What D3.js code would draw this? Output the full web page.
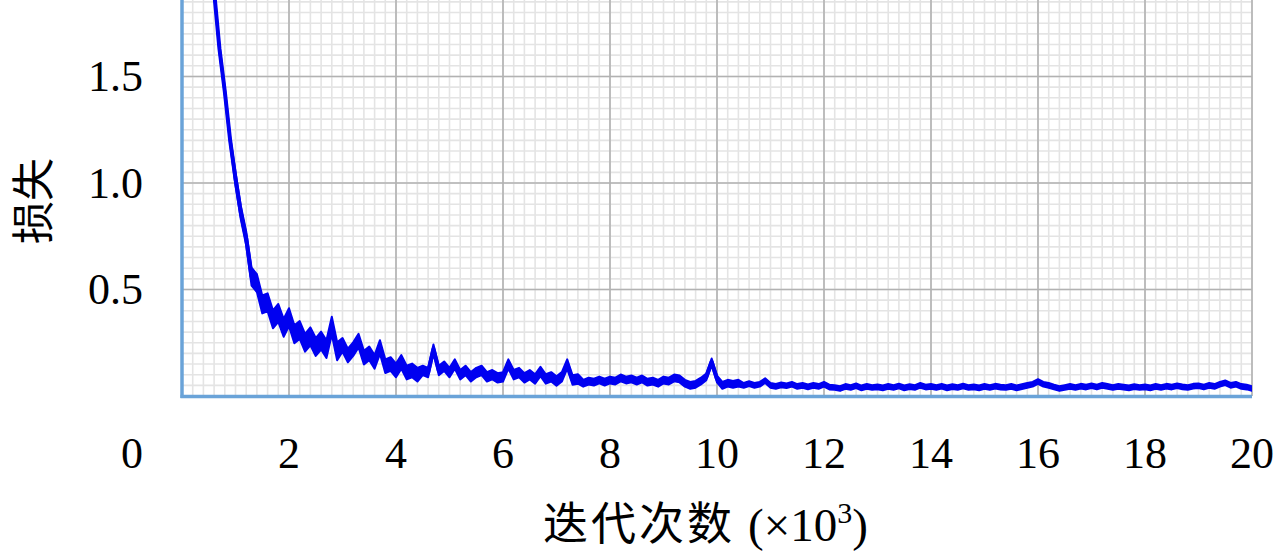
<!DOCTYPE html>
<html><head><meta charset="utf-8">
<script src="https://cdn.jsdelivr.net/npm/d3@7"></script>
<style>body{margin:0;background:#fff}svg{display:block}</style>
</head><body><svg id="c" width="1280" height="557"></svg>
<script>
// Loss sampled every 0.1 x10^3 iterations, starting at 0.5 x10^3
const iterStart = 0.5, iterStep = 0.1;
const lossValues = [
2.08,1.90,1.63,1.43,1.20,1.02,0.86,0.74,0.56,0.53,
0.43,0.44,0.36,0.39,0.32,0.37,0.29,0.31,0.25,0.28,
0.23,0.26,0.22,0.33,0.21,0.24,0.19,0.22,0.26,0.18,
0.20,0.16,0.23,0.14,0.15,0.12,0.16,0.11,0.12,0.10,
0.12,0.11,0.22,0.12,0.14,0.11,0.15,0.10,0.12,0.09,
0.11,0.12,0.09,0.10,0.085,0.09,0.15,0.10,0.11,0.085,
0.10,0.08,0.115,0.08,0.09,0.07,0.09,0.15,0.075,0.08,
0.06,0.07,0.065,0.075,0.065,0.075,0.07,0.085,0.075,0.08,
0.07,0.08,0.065,0.07,0.06,0.075,0.07,0.085,0.08,0.06,
0.05,0.055,0.07,0.09,0.16,0.08,0.05,0.06,0.055,0.06,
0.05,0.058,0.05,0.055,0.072,0.05,0.045,0.052,0.048,0.055,
0.045,0.05,0.043,0.05,0.045,0.055,0.042,0.04,0.035,0.045,
0.04,0.048,0.038,0.045,0.04,0.043,0.038,0.045,0.04,0.047,
0.038,0.044,0.04,0.05,0.042,0.045,0.04,0.046,0.038,0.044,
0.04,0.047,0.04,0.043,0.038,0.045,0.04,0.046,0.042,0.04,
0.045,0.038,0.044,0.05,0.055,0.068,0.055,0.05,0.042,0.035,
0.04,0.045,0.04,0.046,0.042,0.048,0.042,0.05,0.045,0.04,
0.045,0.042,0.038,0.044,0.04,0.043,0.038,0.045,0.04,0.046,
0.042,0.048,0.043,0.04,0.046,0.048,0.042,0.05,0.045,0.055,
0.062,0.05,0.055,0.045,0.042,0.035
];
// Noise half-width of the loss band, read per iteration range: [from (x10^3), half-width]
const noiseFrom   = [0.5,   1.0,   1.3,   3.0,   4.5,   7.5,   10.5];
const noiseSpread = [0.018, 0.032, 0.042, 0.032, 0.022, 0.016, 0.011];
const xTicks = [0,2,4,6,8,10,12,14,16,18,20];
const yTicks = [0.5,1.0,1.5];
const xLabelText = "迭代次数";
const xUnitText = "(×10";
const xUnitExp = "3";
const yLabelText = "损失";

const svg = d3.select("#c");
const x = d3.scaleLinear().domain([0,20]).range([182,1252]);
const y = d3.scaleLinear().domain([0,1.859]).range([396,0]);

const serif = "'Liberation Serif','DejaVu Serif',serif";
const cjk = "'Noto Sans CJK SC','Noto Sans CJK JP',sans-serif";

// grid
const g = svg.append("g");
const minorX = d3.range(0,20.0001,0.2);
const minorY = d3.range(0,1.86,0.05);
g.selectAll(".mx").data(minorX).join("line")
  .attr("x1",d=>x(d)).attr("x2",d=>x(d)).attr("y1",0).attr("y2",y(0))
  .attr("stroke","#e4e4e4").attr("stroke-width",1.6);
g.selectAll(".my").data(minorY).join("line")
  .attr("x1",x(0)).attr("x2",x(20)).attr("y1",d=>y(d)).attr("y2",d=>y(d))
  .attr("stroke","#e4e4e4").attr("stroke-width",1.6);
g.selectAll(".Mx").data(xTicks).join("line")
  .attr("x1",d=>x(d)).attr("x2",d=>x(d)).attr("y1",0).attr("y2",y(0))
  .attr("stroke","#b2b2b2").attr("stroke-width",1.6);
g.selectAll(".My").data(yTicks).join("line")
  .attr("x1",x(0)).attr("x2",x(20)).attr("y1",d=>y(d)).attr("y2",d=>y(d))
  .attr("stroke","#b2b2b2").attr("stroke-width",1.6);

// data
svg.append("clipPath").attr("id","clip").append("rect")
  .attr("x",x(0)).attr("y",0).attr("width",x(20)-x(0)).attr("height",y(0));
const spreadAt = k => { let s = noiseSpread[0]; noiseFrom.forEach((f,i)=>{ if (k >= f) s = noiseSpread[i]; }); return s; };
const pts = lossValues.map((v,i)=>{ const k = iterStart+i*iterStep; return {k, v, s: spreadAt(k)}; });
const plot = svg.append("g").attr("clip-path","url(#clip)");
plot.append("path").datum(pts)
  .attr("fill","#0000f0").attr("stroke","#0000f0").attr("stroke-width",2)
  .attr("stroke-linejoin","round")
  .attr("d", d3.area().x(d=>x(d.k)).y0(d=>y(d.v-d.s)).y1(d=>y(d.v+d.s)));
plot.append("path").datum(pts)
  .attr("fill","none").attr("stroke","#0000f0").attr("stroke-width",4)
  .attr("stroke-linejoin","round")
  .attr("d", d3.line().x(d=>x(d.k)).y(d=>y(d.v)));

// axes lines
svg.append("line").attr("x1",x(0)).attr("x2",x(0)).attr("y1",0).attr("y2",y(0)+2)
  .attr("stroke","#6aa3d8").attr("stroke-width",3.5);
svg.append("line").attr("x1",x(0)-1.5).attr("x2",x(20)).attr("y1",y(0)+0.5).attr("y2",y(0)+0.5)
  .attr("stroke","#6aa3d8").attr("stroke-width",3.5);

// tick labels
svg.selectAll(".xt").data(xTicks).join("text")
  .attr("x",d=> d===0 ? x(d)-50 : x(d)).attr("y",468)
  .attr("text-anchor","middle").attr("font-family",serif).attr("font-size",44)
  .attr("fill","#000").text(d=>d3.format("d")(d));
svg.selectAll(".yt").data(yTicks).join("text")
  .attr("x",143).attr("y",d=>y(d)+15)
  .attr("text-anchor","end").attr("font-family",serif).attr("font-size",44)
  .attr("fill","#000").text(d=>d3.format(".1f")(d));

// axis titles
svg.append("text").attr("x",543).attr("y",540)
  .attr("font-family",cjk).attr("font-size",45).attr("letter-spacing",3)
  .attr("fill","#000").text(xLabelText);
const u = svg.append("text").attr("x",748).attr("y",541)
  .attr("font-family",serif).attr("font-size",47).attr("fill","#000");
u.append("tspan").text(xUnitText);
u.append("tspan").attr("font-size",30).attr("dy",-18).text(xUnitExp);
u.append("tspan").attr("dy",18).text(")");

svg.append("text")
  .attr("transform","translate(30,201) rotate(-90)")
  .attr("text-anchor","middle").attr("dominant-baseline","central")
  .attr("font-family",cjk).attr("font-size",43).attr("fill","#000")
  .text(yLabelText);
</script></body></html>
